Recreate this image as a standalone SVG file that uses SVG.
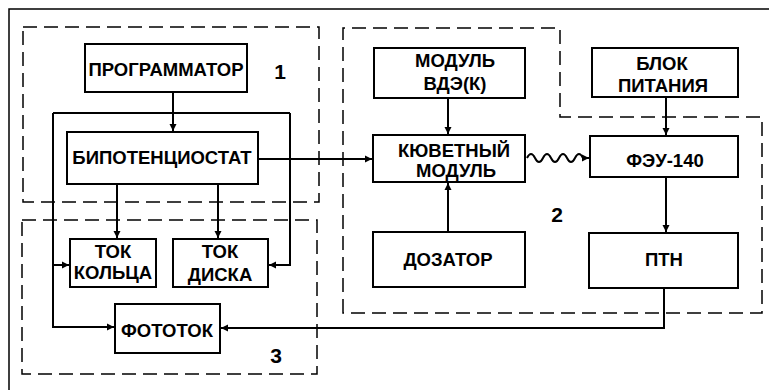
<svg xmlns="http://www.w3.org/2000/svg" width="769" height="390" viewBox="0 0 769 390">
<defs>
<style>
.box{fill:#fff;stroke:#000;stroke-width:2}
.t{font-family:"Liberation Sans",Arial,sans-serif;font-weight:bold;font-size:18.5px;text-anchor:middle;fill:#000}
.num{font-family:"Liberation Sans",Arial,sans-serif;font-weight:bold;font-size:21px;text-anchor:middle;fill:#000}
.dash{fill:none;stroke:#000;stroke-width:1.5;stroke-dasharray:14 7}
.ln{fill:none;stroke:#000;stroke-width:2}
.arr{marker-end:url(#ah)}
</style>
<marker id="ah" markerWidth="8" markerHeight="8" refX="7" refY="4" orient="auto" markerUnits="userSpaceOnUse">
<path d="M0,0.5 L7,4 L0,7.5 z" fill="#000"/>
</marker>
</defs>
<rect width="769" height="390" fill="#fff"/>
<path d="M9,390 V9 H769" fill="none" stroke="#000" stroke-width="1.5"/>
<g id="groups">
<rect class="dash" x="23" y="27" width="296" height="175"/>
<rect class="dash" x="22" y="220" width="295" height="154"/>
<path class="dash" d="M343,313 V28 H560 V117 H762 V313 Z"/>
<text class="num" x="280" y="79">1</text>
<text class="num" x="557" y="222">2</text>
<text class="num" x="276" y="363">3</text>
</g>
<g id="connectors">
<path class="ln arr" d="M173,92 V131"/>
<path class="ln" d="M53,113 H290"/>
<path class="ln arr" d="M53,113 V327 H114"/>
<path class="ln arr" d="M53,265 H69"/>
<path class="ln arr" d="M290,113 V265 H269"/>
<path class="ln arr" d="M117,184 V238"/>
<path class="ln arr" d="M218,184 V238"/>
<path class="ln arr" d="M258,159 H372"/>
<path class="ln arr" d="M448,98 V134"/>
<path class="ln arr" d="M448,232 V183"/>
<path class="ln arr" d="M527,158 q4,-8 8,0 t8,0 t8,0 t8,0 t8,0 t8,0 t8,0 L589,158" stroke-width="2.3"/>
<path class="ln arr" d="M666,97 V135"/>
<path class="ln arr" d="M666,177 V232"/>
<path class="ln arr" d="M664,288 V328 H221"/>
</g>
<g id="programmator">
<rect class="box" x="85" y="44" width="162" height="48"/>
<text class="t" x="166" y="76">ПРОГРАММАТОР</text>
</g>
<g id="bipotentiostat">
<rect class="box" x="67" y="132" width="191" height="52"/>
<text class="t" x="162" y="164">БИПОТЕНЦИОСТАТ</text>
</g>
<g id="tok-koltsa">
<rect class="box" x="70" y="239" width="86" height="48"/>
<text class="t" x="113" y="258">ТОК</text>
<text class="t" x="113" y="279">КОЛЬЦА</text>
</g>
<g id="tok-diska">
<rect class="box" x="173" y="239" width="95" height="48"/>
<text class="t" x="220" y="258">ТОК</text>
<text class="t" x="220" y="281">ДИСКА</text>
</g>
<g id="fototok">
<rect class="box" x="115" y="304" width="105" height="49"/>
<text class="t" x="167" y="337">ФОТОТОК</text>
</g>
<g id="modul-vde">
<rect class="box" x="374" y="48" width="151" height="50"/>
<text class="t" x="455" y="67">МОДУЛЬ</text>
<text class="t" x="455" y="90">ВДЭ(К)</text>
</g>
<g id="kyuvetny">
<rect class="box" x="373" y="135" width="152" height="47"/>
<text class="t" x="454" y="157">КЮВЕТНЫЙ</text>
<text class="t" x="456" y="177">МОДУЛЬ</text>
</g>
<g id="dozator">
<rect class="box" x="373" y="232" width="152" height="55"/>
<text class="t" x="448" y="266">ДОЗАТОР</text>
</g>
<g id="blok-pitaniya">
<rect class="box" x="592" y="48" width="146" height="49"/>
<text class="t" x="662" y="70">БЛОК</text>
<text class="t" x="663" y="92">ПИТАНИЯ</text>
</g>
<g id="feu">
<rect class="box" x="590" y="136" width="148" height="41"/>
<text class="t" x="665" y="167">ФЭУ-140</text>
</g>
<g id="ptn">
<rect class="box" x="589" y="233" width="149" height="55"/>
<text class="t" x="664" y="266">ПТН</text>
</g>
</svg>
